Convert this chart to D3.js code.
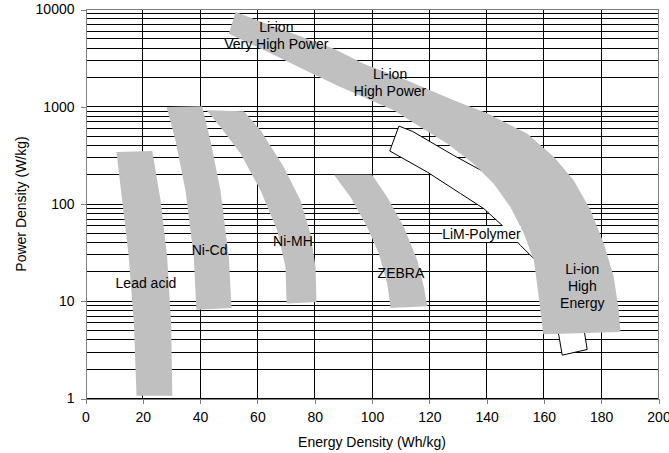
<!DOCTYPE html>
<html>
<head>
<meta charset="utf-8">
<script src="https://cdnjs.cloudflare.com/ajax/libs/d3/7.8.5/d3.min.js"></script>
<style>
  body { margin: 0; background: #fff; }
  text { font-family: "Liberation Sans", Arial, sans-serif; font-size: 14px; fill: #000; }
</style>
</head>
<body>
<script>
// size of the page
var w = 669;
var h = 453;

// axis ticks
var xTicks = [0, 20, 40, 60, 80, 100, 120, 140, 160, 180, 200];
var yTicks = [1, 10, 100, 1000, 10000];

// regions, [energy Wh/kg, power W/kg]
var leadAcid = [[10.8, 342], [23.3, 351], [26.2, 109], [28.5, 28.5], [29.9, 5.9], [30.3, 1.07],
  [17.8, 1.07], [16.9, 5.9], [15.1, 28.5], [12.8, 109]];
var niCd = [[28.3, 993], [40.7, 1010], [43.6, 451], [47.1, 138], [50.0, 28.5], [51.0, 8.5],
  [38.7, 8.2], [37.8, 28.5], [34.9, 138], [31.4, 451]];
var niMH = [[42.2, 918], [55.3, 897], [61.1, 572], [69.2, 240], [75.0, 109], [78.5, 49.6], [80.3, 22.5], [80.6, 9.8],
  [70.2, 9.5], [69.8, 22.5], [66.9, 53.7], [61.1, 138], [54.1, 330], [47.1, 618]];
var zebra = [[86.7, 200], [100.0, 200], [105.3, 118], [111.1, 58], [115.8, 26.4], [118.1, 14.0], [119.3, 8.9],
  [106.5, 8.5], [105.3, 15.2], [102.4, 30.9], [98.3, 58], [92.5, 118]];
var liIon = [[52.4, 9400], [86.7, 3956], [97.1, 2773], [112.3, 1867], [128.5, 1164], [140.2, 855], [154.2, 529],
  [163.5, 304], [170.4, 175], [176.3, 86.1], [180.9, 39.2], [184.4, 17.8], [186.1, 8.08], [186.7, 4.84],
  [159.8, 4.58], [158.2, 11.1], [156.5, 26.4], [153.0, 49.6], [148.3, 93.2], [142.5, 162], [135.5, 260],
  [126.2, 418], [116.9, 618], [107.6, 918], [97.1, 1249], [89.0, 1593], [80.3, 2102], [64.6, 3540], [50.0, 5640]];
var limPolymer = [[109.4, 633], [114.1, 559], [128.5, 316], [140.2, 205], [146.0, 133], [155.3, 68], [164.0, 29.7],
  [170.0, 13.0], [173.5, 6.38], [175.1, 3.19], [166.4, 2.79], [165.2, 4.47], [163.0, 7.18], [160.6, 13.0],
  [157.1, 26.4], [151.8, 37.6], [145.4, 60.4], [139.0, 89.7], [130.9, 128], [119.3, 213], [106.2, 351]];

var grayRegions = [leadAcid, niCd, niMH, zebra, liIon];

// labels: text lines and the point they are centred on
var labels = [
  {lines: ["Li-ion", "Very High Power"], e: 66.6, p: 5355},
  {lines: ["Li-ion", "High Power"], e: 106.3, p: 1782},
  {lines: ["Lead acid"], e: 21.1, p: 15.3},
  {lines: ["Ni-Cd"], e: 43.3, p: 33.4},
  {lines: ["Ni-MH"], e: 72.4, p: 41.9},
  {lines: ["ZEBRA"], e: 110.1, p: 19.4},
  {lines: ["Li-ion", "High", "Energy"], e: 173.4, p: 14.4}
];
var limLabel = {text: "LiM-Polymer", e: 138.2, p: 49};

var svg = d3.select("body")
  .append("svg")
  .attr("width", w)
  .attr("height", h);

var x = d3.scaleLinear().domain([0, 200]).range([85.5, 658.5]);
var y = d3.scaleLog().domain([1, 10000]).range([398.5, 9.5]);

// grid
var grid = svg.append("g").attr("shape-rendering", "crispEdges");
grid.selectAll("line.h")
  .data(y.ticks())
  .enter().append("line")
  .attr("x1", x(0)).attr("x2", x(200))
  .attr("y1", function(d) { return y(d); })
  .attr("y2", function(d) { return y(d); })
  .attr("stroke", function(d) { return d == 10000 ? "#808080" : "#000"; })
  .attr("stroke-width", 1);
grid.selectAll("line.v")
  .data(xTicks.slice(1))
  .enter().append("line")
  .attr("y1", y(1)).attr("y2", y(10000))
  .attr("x1", function(d) { return x(d); })
  .attr("x2", function(d) { return x(d); })
  .attr("stroke", function(d) { return d == 200 ? "#808080" : "#000"; })
  .attr("stroke-width", 1);

var line = d3.line()
  .x(function(d) { return x(d[0]); })
  .y(function(d) { return y(d[1]); });

// polymer sits under the gray band
svg.append("path")
  .attr("d", line(limPolymer) + "Z")
  .attr("fill", "#fff")
  .attr("stroke", "#000")
  .attr("stroke-width", 1);

svg.selectAll("path.region")
  .data(grayRegions)
  .enter().append("path")
  .attr("class", "region")
  .attr("d", function(d) { return line(d) + "Z"; })
  .attr("fill", "#c0c0c0");

// polymer label has a white box
var lim = svg.append("g");
var limText = lim.append("text")
  .attr("x", x(limLabel.e))
  .attr("y", y(limLabel.p))
  .attr("dy", "0.35em")
  .attr("text-anchor", "middle")
  .text(limLabel.text);
var bb = limText.node().getBBox();
lim.insert("rect", "text")
  .attr("x", bb.x)
  .attr("y", bb.y)
  .attr("width", bb.width)
  .attr("height", bb.height)
  .attr("fill", "#fff");

labels.forEach(function(l) {
  var t = svg.append("text")
    .attr("text-anchor", "middle")
    .attr("x", x(l.e))
    .attr("y", y(l.p));
  var off = -(l.lines.length - 1) / 2 * 17;
  l.lines.forEach(function(s, i) {
    t.append("tspan")
      .attr("x", x(l.e))
      .attr("y", y(l.p) + off + i * 17)
      .attr("dy", "0.35em")
      .text(s);
  });
});

// axes
var xAxis = svg.append("g")
  .attr("transform", "translate(0," + y(1) + ")")
  .call(d3.axisBottom(x).tickValues(xTicks).tickSize(5).tickSizeOuter(0).tickPadding(9).tickFormat(d3.format("d")));
var yAxis = svg.append("g")
  .attr("transform", "translate(" + x(0) + ",0)")
  .call(d3.axisLeft(y).tickValues(yTicks).tickSize(5).tickSizeOuter(0).tickPadding(6).tickFormat(d3.format("d")));
[xAxis, yAxis].forEach(function(a) {
  a.select(".domain").attr("stroke", "#808080").attr("shape-rendering", "crispEdges");
  a.selectAll(".tick line").attr("stroke", "#808080").attr("shape-rendering", "crispEdges");
  a.selectAll("text").style("font-size", "14px").style("font-family", '"Liberation Sans", Arial, sans-serif');
});

svg.append("text")
  .attr("x", (x(0) + x(200)) / 2)
  .attr("y", 442)
  .attr("dy", "0.35em")
  .attr("text-anchor", "middle")
  .text("Energy Density (Wh/kg)");
svg.append("text")
  .attr("transform", "translate(21," + (y(1) + y(10000)) / 2 + ") rotate(-90)")
  .attr("dy", "0.35em")
  .attr("text-anchor", "middle")
  .text("Power Density (W/kg)");
</script>
</body>
</html>
